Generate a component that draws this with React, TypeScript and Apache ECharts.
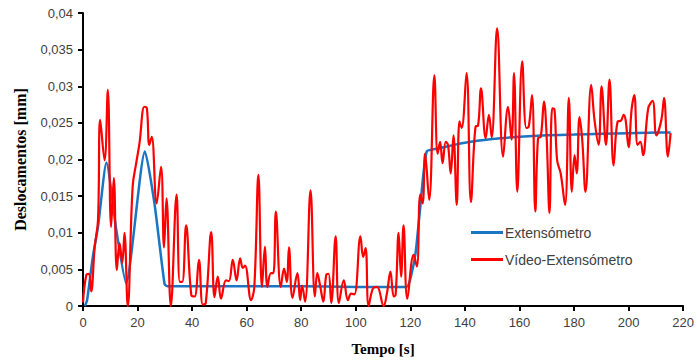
import React, { useEffect, useRef } from "react";
import * as echarts from "echarts";

const xTicksMax = 220;
const yMax = 0.04;

const blueTime = [0.7, 1.5, 3.6, 5.5, 8.6, 12.2, 15.8, 22.7, 26.2, 29.9, 31, 40, 60, 80, 100, 118.6, 120.5, 122, 123.5, 126, 130, 140, 150, 160, 170, 180, 190, 200, 210, 215.4];
const blueValue = [0, 0.0008, 0.0067, 0.0108, 0.0196, 0.0104, 0.0031, 0.0211, 0.014, 0.003, 0.0027, 0.0027, 0.0027, 0.0027, 0.0026, 0.0026, 0.0045, 0.0075, 0.013, 0.0211, 0.0215, 0.0223, 0.0228, 0.0231, 0.0233, 0.0234, 0.0235, 0.0236, 0.0237, 0.0237];

const redTime = [
  0, 1.2, 2.2, 3.0, 4.3, 5.5, 6.3, 7.9, 9.1, 10.3, 11.3, 12.4, 13.4, 14.4, 15.2, 16.4, 18.2, 19.5, 20.7, 22.5,
  23.4, 24.3, 25.2, 27.0, 28.6, 29.7, 30.6, 32.2, 34.3, 35.5, 36.4, 37.8, 39.7, 40.9, 42.5, 43.9, 45.0, 47.0, 48.2, 49.4,
  50.6, 52.4, 53.5, 54.9, 56.3, 57.6, 58.6, 59.4, 61.6, 62.8, 64.3, 65.6, 66.7, 67.6, 68.9, 69.8, 70.7, 72.5, 73.7, 74.7,
  75.5, 76.8, 78.6, 79.6, 80.3, 81.4, 83.4, 85.0, 85.9, 87.0, 88.1, 89.2, 90.0, 91.0, 92.6, 93.8, 95.6, 97.1, 98.3, 99.5,
  101.7, 102.7, 103.6, 104.7, 106.3, 107.8, 110.2, 111.4, 112.7, 113.9, 114.6, 115.7, 116.6, 117.5, 118.9, 121.2, 122.4, 123.6, 124.5, 125.4,
  126.9, 128.8, 130.0, 130.9, 131.8, 133.0, 133.8, 134.8, 135.8, 137.0, 138.0, 138.8, 140.6, 142.2, 143.9, 144.8, 145.9, 147.6, 148.8, 149.8,
  151.8, 154.0, 155.8, 157.1, 158.0, 159.2, 161.0, 162.5, 163.4, 164.6, 165.8, 166.8, 167.8, 169.0, 169.9, 171.0, 172.0, 172.8, 173.8, 175.1,
  176.7, 178.1, 179.2, 180.2, 181.0, 182.0, 183.0, 184.2, 186.3, 187.5, 189.0, 190.1, 191.7, 193.0, 194.5, 196.0, 197.2, 198.2, 198.9, 200.0,
  201.1, 202.1, 203.3, 204.3, 205.3, 207.2, 208.8, 210.2, 212.0, 213.0, 214.4, 215.4,
];
const redValue = [
  0.0005, 0.0042, 0.0044, 0.002, 0.0081, 0.0117, 0.0254, 0.0199, 0.0295, 0.0108, 0.0175, 0.0049, 0.0086, 0.0059, 0.01, 0.0, 0.0163, 0.0195, 0.0222, 0.0272,
  0.027, 0.022, 0.0231, 0.014, 0.019, 0.008, 0.0147, 0.0, 0.0152, 0.0033, 0.0033, 0.011, 0.0015, 0.0013, 0.0063, 0.0002, 0.0004, 0.0101, 0.0012, 0.004,
  0.001, 0.0035, 0.0034, 0.0063, 0.0035, 0.0065, 0.0052, 0.0055, 0.0008, 0.0026, 0.0179, 0.0026, 0.0081, 0.0026, 0.0045, 0.0045, 0.0129, 0.0026, 0.0051, 0.0033,
  0.008, 0.0011, 0.0045, 0.0008, 0.0028, 0.0006, 0.0158, 0.0013, 0.0045, 0.0026, 0.0006, 0.0043, 0.0044, 0.0004, 0.0095, 0.0004, 0.0035, 0.0008, 0.0017, 0.0016,
  0.0095, 0.0067, 0.0079, 0.0, 0.0024, 0.0026, 0.0, 0.0017, 0.0047, 0.0013, 0.0015, 0.01, 0.004, 0.011, 0.001, 0.007, 0.0054, 0.0152, 0.014, 0.0208,
  0.0145, 0.0315, 0.0208, 0.0224, 0.0195, 0.0224, 0.022, 0.0181, 0.0233, 0.0138, 0.0252, 0.0243, 0.0318, 0.0142, 0.0245, 0.0246, 0.0297, 0.0229, 0.0261, 0.023,
  0.0379, 0.0204, 0.0272, 0.0227, 0.0318, 0.0156, 0.0334, 0.0243, 0.0245, 0.0288, 0.0129, 0.0229, 0.0231, 0.0279, 0.0236, 0.0127, 0.027, 0.0269, 0.0199, 0.0181,
  0.0138, 0.0284, 0.0156, 0.0206, 0.0181, 0.0258, 0.0227, 0.0156, 0.0302, 0.0254, 0.022, 0.03, 0.022, 0.0309, 0.0192, 0.0252, 0.0253, 0.0261, 0.0254, 0.0217,
  0.0268, 0.0288, 0.022, 0.0224, 0.0206, 0.027, 0.028, 0.0233, 0.0254, 0.0284, 0.0204, 0.0236,
];

const seriesNames = ["Extensómetro", "Vídeo-Extensómetro"];

export default function App() {
  const ref = useRef<HTMLDivElement>(null);
  useEffect(() => {
    if (!ref.current) return;
    const chart = echarts.init(ref.current, null, { renderer: "svg" });
    const sans = "'Liberation Sans', Arial, sans-serif";
    const serif = "'Liberation Serif', 'Times New Roman', serif";
    chart.setOption({
      animation: false,
      backgroundColor: "#ffffff",
      grid: { left: 83, right: 12, top: 13, bottom: 57, containLabel: false },
      legend: {
        orient: "vertical",
        left: 466,
        top: 219,
        icon: "rect",
        itemWidth: 32,
        itemHeight: 3,
        itemGap: 10,
        data: seriesNames,
        textStyle: { fontFamily: sans, fontSize: 14, color: "#404040", lineHeight: 17, padding: [0, 0, 0, -3] },
      },
      xAxis: {
        type: "value",
        min: 0,
        max: xTicksMax,
        interval: 20,
        name: "Tempo [s]",
        nameLocation: "middle",
        nameGap: 35,
        nameTextStyle: { fontFamily: serif, fontSize: 15, fontWeight: "bold", color: "#000" },
        axisLine: { show: true, lineStyle: { color: "#000", width: 2 } },
        axisTick: { show: true, length: 5, lineStyle: { color: "#000", width: 2 } },
        axisLabel: { fontFamily: sans, fontSize: 13, color: "#404040", margin: 10 },
        splitLine: { show: false },
      },
      yAxis: {
        type: "value",
        min: 0,
        max: yMax,
        interval: 0.005,
        name: "Deslocamentos [mm]",
        nameLocation: "middle",
        nameGap: 55,
        nameTextStyle: { fontFamily: serif, fontSize: 16, fontWeight: "bold", color: "#000" },
        axisLine: { show: true, lineStyle: { color: "#000", width: 2 } },
        axisTick: { show: true, length: 5, lineStyle: { color: "#000", width: 2 } },
        axisLabel: {
          fontFamily: sans,
          fontSize: 13,
          color: "#404040",
          margin: 10,
          formatter: (v: number) => String(Number(v.toFixed(3))).replace(".", ","),
        },
        splitLine: { show: false },
      },
      series: [
        {
          name: seriesNames[0],
          type: "line",
          symbol: "none",
          smooth: 0.2,
          data: blueTime.map((t, i) => [t, blueValue[i]]),
          lineStyle: { color: "#1a75c2", width: 2.5 },
          itemStyle: { color: "#1a75c2" },
          z: 2,
        },
        {
          name: seriesNames[1],
          type: "line",
          symbol: "none",
          smooth: 0.4,
          data: redTime.map((t, i) => [t, redValue[i]]),
          lineStyle: { color: "#ff0000", width: 2.2 },
          itemStyle: { color: "#ff0000" },
          z: 3,
        },
      ],
    });
    return () => chart.dispose();
  }, []);
  return (
    <div
      ref={ref}
      style={{ position: "fixed", left: 0, top: 0, width: 697, height: 363, background: "#fff" }}
    />
  );
}
